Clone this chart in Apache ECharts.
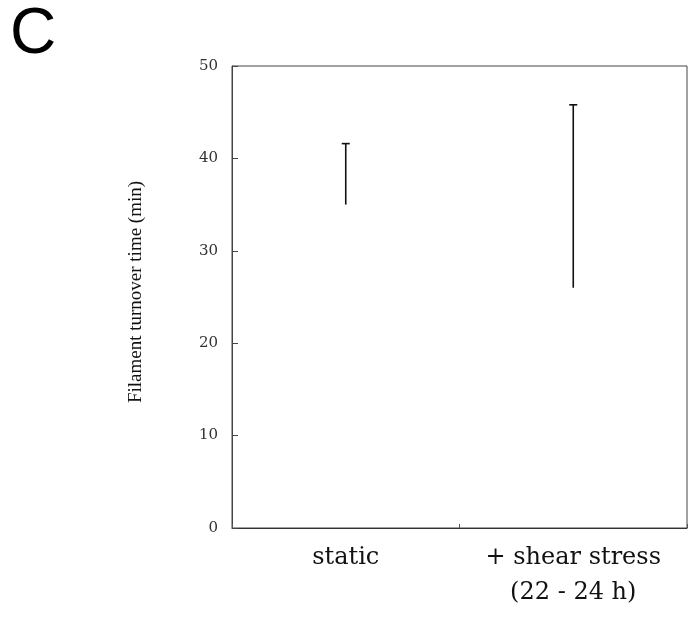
<!DOCTYPE html>
<html>
<head>
<meta charset="utf-8">
<script src="https://cdn.jsdelivr.net/npm/echarts@6/dist/echarts.min.js"></script>
<style>
  html, body { margin: 0; padding: 0; background: #fff; }
  #chart { width: 693px; height: 620px; }
</style>
</head>
<body>
<div id="chart"></div>
<script>
// Filament turnover time ranges for each condition
const categories = ['static', '+ shear stress\n(22 - 24 h)'];
const rangeLow = [35, 26];
const rangeHigh = [41.6, 45.8];
const yTicks = [0, 10, 20, 30, 40, 50];

const serif = '"DejaVu Serif", "Liberation Serif", serif';
const timesLike = '"Liberation Serif", "Times New Roman", serif';

const chart = echarts.init(document.getElementById('chart'));

chart.setOption({
  animation: false,
  backgroundColor: '#fff',
  graphic: [{
    type: 'text',
    left: 10,
    top: 3,
    style: { text: 'C', font: '64px "Liberation Sans", Arial, sans-serif', fill: '#000' }
  }],
  grid: {
    left: 232, top: 66, right: 6, bottom: 92,
    show: true, borderColor: '#444', borderWidth: 1
  },
  xAxis: {
    type: 'category',
    data: categories,
    axisLine: { show: true, lineStyle: { color: '#333', width: 1 } },
    axisTick: { show: true, inside: true, length: 4, interval: 0, lineStyle: { color: '#555' } },
    axisLabel: {
      interval: 0, hideOverlap: false,
      margin: 12, fontFamily: serif, fontSize: 24, lineHeight: 35, color: '#111'
    }
  },
  yAxis: {
    type: 'value',
    min: 0, max: 50, interval: 10,
    name: 'Filament turnover time (min)',
    nameLocation: 'middle',
    nameGap: 86,
    nameRotate: 90,
    nameTextStyle: { fontFamily: timesLike, fontSize: 19, color: '#111', padding: [0, 0, 0, 10] },
    splitLine: { show: false },
    axisLine: { show: true, lineStyle: { color: '#444', width: 1 } },
    axisTick: { show: true, inside: true, length: 6, lineStyle: { color: '#444' } },
    axisLabel: {
      margin: 14, fontFamily: serif, fontSize: 15, color: '#333',
      formatter: v => yTicks.includes(v) ? String(v) : ''
    }
  },
  series: [{
    type: 'custom',
    data: categories.map((c, i) => [i, rangeLow[i], rangeHigh[i]]),
    encode: { x: 0, y: [1, 2] },
    renderItem: function (params, api) {
      const lo = api.coord([api.value(0), api.value(1)]);
      const hi = api.coord([api.value(0), api.value(2)]);
      const capHalf = 4;
      const style = { stroke: '#111', lineWidth: 1.6 };
      return {
        type: 'group',
        children: [
          { type: 'line', shape: { x1: hi[0], y1: hi[1], x2: lo[0], y2: lo[1] }, style: style },
          { type: 'line', shape: { x1: hi[0] - capHalf, y1: hi[1], x2: hi[0] + capHalf, y2: hi[1] }, style: style }
        ]
      };
    }
  }]
});
</script>
</body>
</html>
